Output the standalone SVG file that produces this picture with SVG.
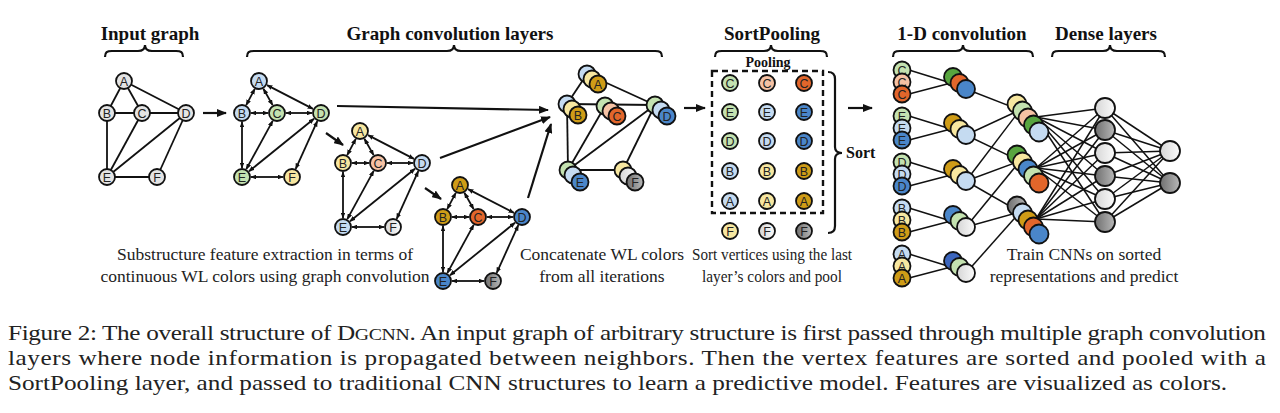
<svg xmlns="http://www.w3.org/2000/svg" width="1280" height="413" viewBox="0 0 1280 413">
<defs>
<marker id="ah" viewBox="0 0 10 8" refX="9" refY="4" markerWidth="6" markerHeight="4.8" markerUnits="userSpaceOnUse" orient="auto-start-reverse"><path d="M0,0 L10,4 L0,8 z" fill="#111"/></marker>
<marker id="big" viewBox="0 0 10 8" refX="9" refY="4" markerWidth="10" markerHeight="8" markerUnits="userSpaceOnUse" orient="auto"><path d="M0,0 L10,4 L0,8 z" fill="#111"/></marker>
<linearGradient id="gwh" x1="0" y1="0" x2="1" y2="0"><stop offset="0" stop-color="#d6d6d6"/><stop offset="1" stop-color="#fbfbfb"/></linearGradient>
<linearGradient id="ggy" x1="0" y1="0" x2="1" y2="0"><stop offset="0" stop-color="#6f6f6f"/><stop offset="1" stop-color="#b8b8b8"/></linearGradient>
<g id="wl-edges" class="ea">
<line x1="12.8" y1="-24.1" x2="4.2" y2="-7.9"/>
<line x1="21.4" y1="-24.2" x2="30.6" y2="-7.9"/>
<line x1="25" y1="-27.9" x2="71" y2="-4.1"/>
<line x1="9" y1="0" x2="26" y2="0"/>
<line x1="44" y1="0" x2="70" y2="0"/>
<line x1="0" y1="9" x2="0" y2="55"/>
<line x1="30.7" y1="7.9" x2="4.3" y2="56.1"/>
<line x1="72" y1="5.7" x2="7" y2="58.3"/>
<line x1="75.3" y1="8.2" x2="53.7" y2="55.8"/>
<line x1="9" y1="64" x2="41" y2="64"/>
</g>
</defs>
<style>
.n{stroke:#111;stroke-width:1.8}
.e{stroke:#111;stroke-width:1.8;fill:none}
.ea line{stroke:#111;stroke-width:1.8;marker-start:url(#ah);marker-end:url(#ah)}
.arr{stroke:#111;stroke-width:2.2;marker-end:url(#big)}
.br{stroke:#111;stroke-width:2.2;fill:none}
.l{font-family:"Liberation Sans",Arial,sans-serif;font-size:12.5px;text-anchor:middle;fill:#222}
.ttl{font-family:"Liberation Serif","Times New Roman",serif;font-weight:bold;font-size:19px;text-anchor:middle;fill:#111}
.cap{font-family:"Liberation Serif","Times New Roman",serif;font-size:17.5px;text-anchor:middle;fill:#222}
.fig{font-family:"Liberation Serif","Times New Roman",serif;font-size:21px;fill:#222}
.ig{fill:#e4e4e4}.lb{fill:#c5dbf1}.lg{fill:#c4e2b0}.ly{fill:#f7e7a0}.pe{fill:#f6c2a4}.wh{fill:url(#gwh)}
.go{fill:#cf9c17}.or{fill:#e2662b}.bl{fill:#4a86c9}.gy{fill:url(#ggy)}.dg{fill:#58a53f}.db{fill:#3c66bd}
</style>
<rect width="1280" height="413" fill="#fff"/>

<g id="titles">
<text class="ttl" x="150" y="40">Input graph</text>
<text class="ttl" x="450" y="40">Graph convolution layers</text>
<text class="ttl" x="772" y="40">SortPooling</text>
<text class="ttl" x="962" y="40">1-D convolution</text>
<text class="ttl" x="1106" y="40">Dense layers</text>
</g>
<g id="braces" class="br">
<path d="M105,57 C105,52 107,51 112,51 L138,51 C142,51 145,50 145,45 C145,50 148,51 152,51 L176,51 C181,51 183,52 183,57"/>
<path d="M247,57 C247,52 249,51 254,51 L447,51 C451,51 454,50 454,45 C454,50 457,51 461,51 L655,51 C660,51 662,52 662,57"/>
<path d="M715,57 C715,52 717,51 722,51 L764,51 C768,51 771,50 771,45 C771,50 774,51 778,51 L820,51 C825,51 827,52 827,57"/>
<path d="M893,57 C893,52 895,51 900,51 L956,51 C960,51 963,50 963,45 C963,50 966,51 970,51 L1026,51 C1031,51 1033,52 1033,57"/>
<path d="M1052,57 C1052,52 1054,51 1059,51 L1103,51 C1107,51 1110,50 1110,45 C1110,50 1113,51 1117,51 L1158,51 C1163,51 1165,52 1165,57"/>
<path d="M828,72 C833,72 835,74 835,79 L835,147 C835,151 837,153 842,153 C837,153 835,155 835,159 L835,226 C835,231 833,233 828,233"/>
</g>

<g id="connectors">
<g id="input-edges" class="e">
<line x1="124" y1="81" x2="107" y2="113"/><line x1="124" y1="81" x2="142" y2="113"/><line x1="124" y1="81" x2="186" y2="113"/>
<line x1="107" y1="113" x2="186" y2="113"/><line x1="107" y1="113" x2="107" y2="177"/><line x1="142" y1="113" x2="107" y2="177"/>
<line x1="186" y1="113" x2="107" y2="177"/><line x1="186" y1="113" x2="157" y2="177"/><line x1="107" y1="177" x2="157" y2="177"/>
</g>
<use href="#wl-edges" transform="translate(242,113)"/>
<use href="#wl-edges" transform="translate(343,163)"/>
<use href="#wl-edges" transform="translate(443,217)"/>
<g id="concat-edges" class="e">
<line x1="587" y1="74" x2="567" y2="104"/><line x1="587" y1="74" x2="655" y2="105"/><line x1="567" y1="104" x2="655" y2="105"/>
<line x1="567" y1="104" x2="568" y2="170"/><line x1="605" y1="106" x2="568" y2="170"/><line x1="655" y1="105" x2="568" y2="170"/>
<line x1="655" y1="105" x2="623" y2="170"/><line x1="568" y1="170" x2="623" y2="170"/>
</g>
<g id="stage-arrows">
<line class="arr" x1="203" y1="113" x2="226" y2="113"/>
<line class="arr" x1="326" y1="133" x2="343" y2="145"/>
<line class="arr" x1="425" y1="188" x2="441" y2="199"/>
<line class="arr" x1="337" y1="106" x2="548" y2="110"/>
<line class="arr" x1="440" y1="158" x2="550" y2="117"/>
<line class="arr" x1="528" y1="198" x2="551" y2="124"/>
<line class="arr" x1="684" y1="108" x2="705" y2="108"/>
<line class="arr" x1="848" y1="108" x2="872" y2="108"/>
</g>
<g id="conv-edges" class="e" style="stroke-width:1.5">
<line x1="909" y1="70" x2="951" y2="83"/><line x1="909" y1="94" x2="951" y2="83"/>
<line x1="909" y1="116" x2="951" y2="129"/><line x1="909" y1="140" x2="951" y2="129"/>
<line x1="909" y1="162" x2="951" y2="175"/><line x1="909" y1="186" x2="951" y2="175"/>
<line x1="909" y1="208" x2="951" y2="221"/><line x1="909" y1="232" x2="951" y2="221"/>
<line x1="909" y1="254" x2="951" y2="267"/><line x1="909" y1="278" x2="951" y2="267"/>
<line x1="966" y1="89" x2="1020" y2="110"/><line x1="966" y1="135" x2="1020" y2="110"/><line x1="966" y1="181" x2="1020" y2="110"/>
<line x1="966" y1="135" x2="1020" y2="161"/><line x1="966" y1="181" x2="1020" y2="161"/><line x1="966" y1="227" x2="1020" y2="161"/>
<line x1="966" y1="181" x2="1020" y2="212"/><line x1="966" y1="227" x2="1020" y2="212"/><line x1="966" y1="273" x2="1020" y2="212"/>
</g>
<g id="dense-edges" class="e" style="stroke-width:1.5">
<line x1="1036" y1="117" x2="1105" y2="108"/><line x1="1036" y1="117" x2="1105" y2="130"/><line x1="1036" y1="117" x2="1105" y2="153"/><line x1="1036" y1="117" x2="1105" y2="176"/><line x1="1036" y1="117" x2="1105" y2="199"/><line x1="1036" y1="117" x2="1105" y2="222"/>
<line x1="1036" y1="168" x2="1105" y2="108"/><line x1="1036" y1="168" x2="1105" y2="130"/><line x1="1036" y1="168" x2="1105" y2="153"/><line x1="1036" y1="168" x2="1105" y2="176"/><line x1="1036" y1="168" x2="1105" y2="199"/><line x1="1036" y1="168" x2="1105" y2="222"/>
<line x1="1036" y1="219" x2="1105" y2="108"/><line x1="1036" y1="219" x2="1105" y2="130"/><line x1="1036" y1="219" x2="1105" y2="153"/><line x1="1036" y1="219" x2="1105" y2="176"/><line x1="1036" y1="219" x2="1105" y2="199"/><line x1="1036" y1="219" x2="1105" y2="222"/>
<line x1="1105" y1="108" x2="1170" y2="151"/><line x1="1105" y1="130" x2="1170" y2="151"/><line x1="1105" y1="153" x2="1170" y2="151"/><line x1="1105" y1="176" x2="1170" y2="151"/><line x1="1105" y1="199" x2="1170" y2="151"/><line x1="1105" y1="222" x2="1170" y2="151"/>
<line x1="1105" y1="108" x2="1170" y2="183"/><line x1="1105" y1="130" x2="1170" y2="183"/><line x1="1105" y1="153" x2="1170" y2="183"/><line x1="1105" y1="176" x2="1170" y2="183"/><line x1="1105" y1="199" x2="1170" y2="183"/><line x1="1105" y1="222" x2="1170" y2="183"/>
</g>
</g>

<g id="input-graph">
<g id="in-A"><circle class="n ig" cx="124" cy="81" r="8"/><text class="l" x="124" y="85.5">A</text></g>
<g id="in-B"><circle class="n ig" cx="107" cy="113" r="8"/><text class="l" x="107" y="117.5">B</text></g>
<g id="in-C"><circle class="n ig" cx="142" cy="113" r="8"/><text class="l" x="142" y="117.5">C</text></g>
<g id="in-D"><circle class="n ig" cx="186" cy="113" r="8"/><text class="l" x="186" y="117.5">D</text></g>
<g id="in-E"><circle class="n ig" cx="107" cy="177" r="8"/><text class="l" x="107" y="181.5">E</text></g>
<g id="in-F"><circle class="n ig" cx="157" cy="177" r="8"/><text class="l" x="157" y="181.5">F</text></g>
</g>

<g id="gc1">
<g id="g1-A"><circle class="n lb" cx="259" cy="81" r="8"/><text class="l" x="259" y="85.5">A</text></g>
<g id="g1-B"><circle class="n lb" cx="242" cy="113" r="8"/><text class="l" x="242" y="117.5">B</text></g>
<g id="g1-C"><circle class="n lg" cx="277" cy="113" r="8"/><text class="l" x="277" y="117.5">C</text></g>
<g id="g1-D"><circle class="n lg" cx="321" cy="113" r="8"/><text class="l" x="321" y="117.5">D</text></g>
<g id="g1-E"><circle class="n lg" cx="242" cy="177" r="8"/><text class="l" x="242" y="181.5">E</text></g>
<g id="g1-F"><circle class="n ly" cx="292" cy="177" r="8"/><text class="l" x="292" y="181.5">F</text></g>
</g>
<g id="gc2">
<g id="g2-A"><circle class="n ly" cx="360" cy="131" r="8"/><text class="l" x="360" y="135.5">A</text></g>
<g id="g2-B"><circle class="n ly" cx="343" cy="163" r="8"/><text class="l" x="343" y="167.5">B</text></g>
<g id="g2-C"><circle class="n pe" cx="378" cy="163" r="8"/><text class="l" x="378" y="167.5">C</text></g>
<g id="g2-D"><circle class="n lb" cx="422" cy="163" r="8"/><text class="l" x="422" y="167.5">D</text></g>
<g id="g2-E"><circle class="n lb" cx="343" cy="227" r="8"/><text class="l" x="343" y="231.5">E</text></g>
<g id="g2-F"><circle class="n wh" cx="393" cy="227" r="8"/><text class="l" x="393" y="231.5">F</text></g>
</g>
<g id="gc3">
<g id="g3-A"><circle class="n go" cx="460" cy="185" r="8"/><text class="l" x="460" y="189.5">A</text></g>
<g id="g3-B"><circle class="n go" cx="443" cy="217" r="8"/><text class="l" x="443" y="221.5">B</text></g>
<g id="g3-C"><circle class="n or" cx="478" cy="217" r="8"/><text class="l" x="478" y="221.5">C</text></g>
<g id="g3-D"><circle class="n bl" cx="522" cy="217" r="8"/><text class="l" x="522" y="221.5">D</text></g>
<g id="g3-E"><circle class="n bl" cx="443" cy="281" r="8"/><text class="l" x="443" y="285.5">E</text></g>
<g id="g3-F"><circle class="n gy" cx="493" cy="281" r="8"/><text class="l" x="493" y="285.5">F</text></g>
</g>

<g id="concat">
<g id="cc-A"><circle class="n lb" cx="587" cy="74" r="8.5"/><circle class="n ly" cx="592" cy="79" r="8.5"/><circle class="n go" cx="598" cy="84" r="8.5"/><text class="l" x="598" y="88.5">A</text></g>
<g id="cc-B"><circle class="n lb" cx="567" cy="104" r="8.5"/><circle class="n ly" cx="572" cy="109" r="8.5"/><circle class="n go" cx="578" cy="115" r="8.5"/><text class="l" x="578" y="119.5">B</text></g>
<g id="cc-C"><circle class="n lg" cx="605" cy="106" r="8.5"/><circle class="n pe" cx="611" cy="111" r="8.5"/><circle class="n or" cx="617" cy="116" r="8.5"/><text class="l" x="617" y="120.5">C</text></g>
<g id="cc-D"><circle class="n lg" cx="655" cy="105" r="8.5"/><circle class="n lb" cx="661" cy="110" r="8.5"/><circle class="n bl" cx="667" cy="116" r="8.5"/><text class="l" x="667" y="120.5">D</text></g>
<g id="cc-E"><circle class="n lg" cx="568" cy="170" r="8.5"/><circle class="n lb" cx="573" cy="175" r="8.5"/><circle class="n bl" cx="580" cy="182" r="8.5"/><text class="l" x="580" y="186.5">E</text></g>
<g id="cc-F"><circle class="n ly" cx="623" cy="170" r="8.5"/><circle class="n wh" cx="628" cy="176" r="8.5"/><circle class="n gy" cx="635" cy="182" r="8.5"/><text class="l" x="635" y="186.5">F</text></g>
</g>

<g id="sortpooling">
<rect x="712" y="71" width="111" height="142" fill="none" stroke="#111" stroke-width="2.4" stroke-dasharray="6,4"/>
<text x="768" y="67" style="font-family:'Liberation Serif',serif;font-weight:bold;font-size:14px;text-anchor:middle;fill:#111">Pooling</text>
<text x="846" y="158" style="font-family:'Liberation Serif',serif;font-weight:bold;font-size:16px;fill:#111">Sort</text>
<g id="sp-C"><circle class="n lg" cx="730" cy="83" r="8"/><text class="l" x="730" y="87.5">C</text><circle class="n pe" cx="767" cy="83" r="8"/><text class="l" x="767" y="87.5">C</text><circle class="n or" cx="804" cy="83" r="8"/><text class="l" x="804" y="87.5">C</text></g>
<g id="sp-E"><circle class="n lg" cx="730" cy="112" r="8"/><text class="l" x="730" y="116.5">E</text><circle class="n lb" cx="767" cy="112" r="8"/><text class="l" x="767" y="116.5">E</text><circle class="n bl" cx="804" cy="112" r="8"/><text class="l" x="804" y="116.5">E</text></g>
<g id="sp-D"><circle class="n lg" cx="730" cy="141" r="8"/><text class="l" x="730" y="145.5">D</text><circle class="n lb" cx="767" cy="141" r="8"/><text class="l" x="767" y="145.5">D</text><circle class="n bl" cx="804" cy="141" r="8"/><text class="l" x="804" y="145.5">D</text></g>
<g id="sp-B"><circle class="n lb" cx="730" cy="171" r="8"/><text class="l" x="730" y="175.5">B</text><circle class="n ly" cx="767" cy="171" r="8"/><text class="l" x="767" y="175.5">B</text><circle class="n go" cx="804" cy="171" r="8"/><text class="l" x="804" y="175.5">B</text></g>
<g id="sp-A"><circle class="n lb" cx="730" cy="201" r="8"/><text class="l" x="730" y="205.5">A</text><circle class="n ly" cx="767" cy="201" r="8"/><text class="l" x="767" y="205.5">A</text><circle class="n go" cx="804" cy="201" r="8"/><text class="l" x="804" y="205.5">A</text></g>
<g id="sp-F"><circle class="n ly" cx="730" cy="231" r="8"/><text class="l" x="730" y="235.5">F</text><circle class="n wh" cx="767" cy="231" r="8"/><text class="l" x="767" y="235.5">F</text><circle class="n gy" cx="804" cy="231" r="8"/><text class="l" x="804" y="235.5">F</text></g>
</g>

<g id="conv-input">
<g id="ci-C"><circle class="n lg" cx="902" cy="70" r="8.5"/><text class="l" x="902" y="74.5">C</text><circle class="n pe" cx="902" cy="82" r="8.5"/><text class="l" x="902" y="86.5">C</text><circle class="n or" cx="902" cy="94" r="8.5"/><text class="l" x="902" y="98.5">C</text></g>
<g id="ci-E"><circle class="n lg" cx="902" cy="116" r="8.5"/><text class="l" x="902" y="120.5">E</text><circle class="n lb" cx="902" cy="128" r="8.5"/><text class="l" x="902" y="132.5">E</text><circle class="n bl" cx="902" cy="140" r="8.5"/><text class="l" x="902" y="144.5">E</text></g>
<g id="ci-D"><circle class="n lg" cx="902" cy="162" r="8.5"/><text class="l" x="902" y="166.5">D</text><circle class="n lb" cx="902" cy="174" r="8.5"/><text class="l" x="902" y="178.5">D</text><circle class="n bl" cx="902" cy="186" r="8.5"/><text class="l" x="902" y="190.5">D</text></g>
<g id="ci-B"><circle class="n lb" cx="902" cy="208" r="8.5"/><text class="l" x="902" y="212.5">B</text><circle class="n ly" cx="902" cy="220" r="8.5"/><text class="l" x="902" y="224.5">B</text><circle class="n go" cx="902" cy="232" r="8.5"/><text class="l" x="902" y="236.5">B</text></g>
<g id="ci-A"><circle class="n lb" cx="902" cy="254" r="8.5"/><text class="l" x="902" y="258.5">A</text><circle class="n ly" cx="902" cy="266" r="8.5"/><text class="l" x="902" y="270.5">A</text><circle class="n go" cx="902" cy="278" r="8.5"/><text class="l" x="902" y="282.5">A</text></g>
</g>

<g id="conv-output">
<g id="co-1"><circle class="n dg" cx="953" cy="77" r="9"/><circle class="n or" cx="959.5" cy="83" r="9"/><circle class="n bl" cx="966" cy="89" r="9"/></g>
<g id="co-2"><circle class="n go" cx="953" cy="123" r="9"/><circle class="n ly" cx="959.5" cy="129" r="9"/><circle class="n lb" cx="966" cy="135" r="9"/></g>
<g id="co-3"><circle class="n go" cx="953" cy="169" r="9"/><circle class="n ly" cx="959.5" cy="175" r="9"/><circle class="n lb" cx="966" cy="181" r="9"/></g>
<g id="co-4"><circle class="n bl" cx="953" cy="215" r="9"/><circle class="n lg" cx="959.5" cy="221" r="9"/><circle class="n wh" cx="966" cy="227" r="9"/></g>
<g id="co-5"><circle class="n db" cx="953" cy="261" r="9"/><circle class="n lg" cx="959.5" cy="267" r="9"/><circle class="n wh" cx="966" cy="273" r="9"/></g>
</g>

<g id="conv2-output">
<g id="t-1"><circle class="n ly" cx="1017" cy="104" r="9.5"/><circle class="n lg" cx="1022.5" cy="111" r="9.5"/><circle class="n pe" cx="1028" cy="118" r="9.5"/><circle class="n dg" cx="1033.5" cy="125" r="9.5"/><circle class="n lb" cx="1039" cy="132" r="9.5"/></g>
<g id="t-2"><circle class="n dg" cx="1017" cy="155" r="9.5"/><circle class="n ly" cx="1022.5" cy="162" r="9.5"/><circle class="n bl" cx="1028" cy="169" r="9.5"/><circle class="n lg" cx="1033.5" cy="176" r="9.5"/><circle class="n or" cx="1039" cy="183" r="9.5"/></g>
<g id="t-3"><circle class="n gy" cx="1017" cy="206" r="9.5"/><circle class="n lb" cx="1022.5" cy="213" r="9.5"/><circle class="n go" cx="1028" cy="220" r="9.5"/><circle class="n or" cx="1033.5" cy="227" r="9.5"/><circle class="n bl" cx="1039" cy="234" r="9.5"/></g>
</g>

<g id="dense">
<g id="h1"><circle class="n wh" cx="1105" cy="108" r="10"/></g>
<g id="h2"><circle class="n gy" cx="1105" cy="130" r="10"/></g>
<g id="h3"><circle class="n wh" cx="1105" cy="153" r="10"/></g>
<g id="h4"><circle class="n gy" cx="1105" cy="176" r="10"/></g>
<g id="h5"><circle class="n wh" cx="1105" cy="199" r="10"/></g>
<g id="h6"><circle class="n gy" cx="1105" cy="222" r="10"/></g>
<g id="o1"><circle class="n wh" cx="1170" cy="151" r="10"/></g>
<g id="o2"><circle class="n gy" cx="1170" cy="183" r="10"/></g>
</g>

<g id="stage-captions">
<text class="cap" x="265" y="260">Substructure feature extraction in terms of</text>
<text class="cap" x="265" y="282">continuous WL colors using graph convolution</text>
<text class="cap" x="602" y="260">Concatenate WL colors</text>
<text class="cap" x="602" y="282">from all iterations</text>
<text class="cap" x="772" y="260" textLength="160" lengthAdjust="spacingAndGlyphs">Sort vertices using the last</text>
<text class="cap" x="772" y="282" textLength="140" lengthAdjust="spacingAndGlyphs">layer’s colors and pool</text>
<text class="cap" x="1084" y="260">Train CNNs on sorted</text>
<text class="cap" x="1084" y="282">representations and predict</text>
</g>

<g id="figure-caption" transform="scale(1.2,1)">
<text class="fig" x="6.67" y="340" textLength="1048.3" lengthAdjust="spacing">Figure 2: The overall structure of D<tspan font-size="16.5">GCNN</tspan>. An input graph of arbitrary structure is first passed through multiple graph convolution</text>
<text class="fig" x="6.67" y="365" textLength="1048.3" lengthAdjust="spacing">layers where node information is propagated between neighbors. Then the vertex features are sorted and pooled with a</text>
<text class="fig" x="6.67" y="390">SortPooling layer, and passed to traditional CNN structures to learn a predictive model. Features are visualized as colors.</text>
</g>
</svg>
